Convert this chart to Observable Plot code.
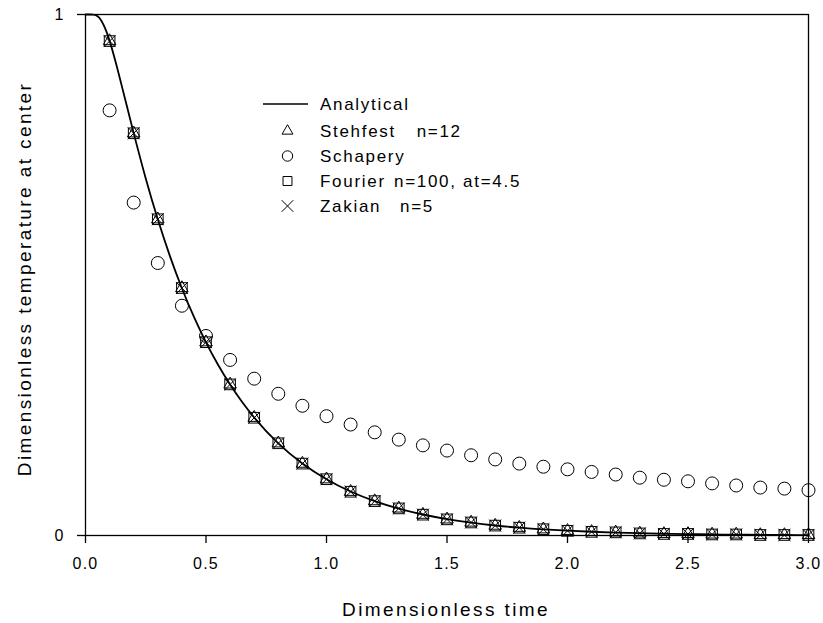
<!DOCTYPE html>
<html>
<head>
<meta charset="utf-8">
<script src="https://cdn.jsdelivr.net/npm/d3@7"></script>
<script src="https://cdn.jsdelivr.net/npm/@observablehq/plot@0.6"></script>
<style>
  html, body { margin: 0; padding: 0; background: #fff; }
  #chart { position: relative; width: 823px; height: 623px; font-family: "Liberation Sans", Arial, sans-serif; }
  #chart svg text { letter-spacing: 1.2px; }
  #overlay { position: absolute; left: 0; top: 0; pointer-events: none; }
  #overlay text.title { letter-spacing: 2.4px; }
  #overlay text.leg { letter-spacing: 1.7px; }
</style>
</head>
<body>
<div id="chart"></div>
<script>
// ---- data ----
const xTicks = [0, 0.5, 1.0, 1.5, 2.0, 2.5, 3.0];
const yTicks = [0, 1];
const xTitle = "Dimensionless time";
const yTitle = "Dimensionless temperature at center";

// analytical curve (finer near t=0)
const analyticalT = [0, 0.01, 0.02, 0.03, 0.04, 0.05, 0.0625, 0.075, 0.09, 0.1, 0.125, 0.15, 0.175, 0.2, 0.25, 0.3, 0.35, 0.4, 0.45, 0.5, 0.55, 0.6, 0.65, 0.7, 0.8, 0.9, 1.0, 1.1, 1.2, 1.3, 1.4, 1.5, 1.6, 1.7, 1.8, 1.9, 2.0, 2.1, 2.2, 2.3, 2.4, 2.5, 2.6, 2.7, 2.8, 2.9, 3.0];
const analyticalV = [1, 1, 1, 0.9999, 0.9992, 0.9967, 0.9906, 0.980, 0.9632, 0.9494, 0.909, 0.864, 0.818, 0.7723, 0.6854, 0.6068, 0.5367, 0.4745, 0.4195, 0.3708, 0.3278, 0.2897, 0.2561, 0.2264, 0.1769, 0.1382, 0.1080, 0.0844, 0.0659, 0.0515, 0.0403, 0.0315, 0.0246, 0.0192, 0.0150, 0.0117, 0.0092, 0.0072, 0.0056, 0.0044, 0.0034, 0.0027, 0.0021, 0.0016, 0.0013, 0.0010, 0.0008];

// sample times for the numerical inversions
const sampleT = [0.1, 0.2, 0.3, 0.4, 0.5, 0.6, 0.7, 0.8, 0.9, 1.0, 1.1, 1.2, 1.3, 1.4, 1.5, 1.6, 1.7, 1.8, 1.9, 2.0, 2.1, 2.2, 2.3, 2.4, 2.5, 2.6, 2.7, 2.8, 2.9, 3.0];
const stehfestV = [0.949, 0.772, 0.607, 0.475, 0.371, 0.290, 0.226, 0.177, 0.138, 0.108, 0.084, 0.066, 0.052, 0.040, 0.031, 0.025, 0.019, 0.015, 0.012, 0.009, 0.007, 0.006, 0.004, 0.003, 0.003, 0.002, 0.002, 0.001, 0.001, 0.001];
const fourierV  = [0.949, 0.772, 0.607, 0.475, 0.371, 0.290, 0.226, 0.177, 0.138, 0.108, 0.084, 0.066, 0.052, 0.040, 0.031, 0.025, 0.019, 0.015, 0.012, 0.009, 0.007, 0.006, 0.004, 0.003, 0.003, 0.002, 0.002, 0.001, 0.001, 0.001];
const zakianV   = [0.949, 0.772, 0.607, 0.475, 0.371, 0.290, 0.226, 0.177, 0.138, 0.108, 0.084, 0.066, 0.052, 0.040, 0.031, 0.025, 0.019, 0.015, 0.012, 0.009, 0.007, 0.006, 0.004, 0.003, 0.003, 0.002, 0.002, 0.001, 0.001, 0.001];
const schaperyV = [0.816, 0.639, 0.523, 0.441, 0.383, 0.337, 0.301, 0.272, 0.249, 0.229, 0.213, 0.198, 0.184, 0.173, 0.163, 0.154, 0.146, 0.138, 0.132, 0.127, 0.122, 0.117, 0.111, 0.107, 0.104, 0.100, 0.096, 0.092, 0.090, 0.087];

const legendLabels = [
  ["Analytical", ""],
  ["Stehfest", "n=12"],
  ["Schapery", ""],
  ["Fourier", "n=100, at=4.5"],
  ["Zakian", "n=5"]
];

// ---- tables ----
const analytical = analyticalT.map((t, i) => ({t, v: analyticalV[i]}));
const pts = (vals) => sampleT.map((t, i) => ({t, v: vals[i]}));

const W = 823, H = 623;
const chart = Plot.plot({
  width: W, height: H,
  marginLeft: 85, marginRight: 15, marginTop: 14, marginBottom: 88,
  style: {fontFamily: "Liberation Sans, Arial, sans-serif", fontSize: "16px", color: "black", background: "white"},
  x: {domain: [0, 3]},
  y: {domain: [0, 1]},
  marks: [
    Plot.frame({stroke: "black", strokeWidth: 1.3}),
    Plot.axisX({ticks: xTicks, tickSize: 8, tickPadding: 14, tickFormat: d => d.toFixed(1), label: null, strokeWidth: 1.3, fontSize: 16}),
    Plot.axisY({ticks: yTicks, tickSize: 8, tickPadding: 13, tickFormat: d => String(d), label: null, strokeWidth: 1.3, fontSize: 16}),
    Plot.line(analytical, {x: "t", y: "v", curve: "monotone-x", stroke: "black", strokeWidth: 1.8}),
    Plot.dot(pts(schaperyV), {x: "t", y: "v", symbol: "circle", r: 6.5, stroke: "black", fill: "none", strokeWidth: 1}),
    Plot.dot(pts(fourierV), {x: "t", y: "v", symbol: "square", r: 6, stroke: "black", fill: "none", strokeWidth: 1}),
    Plot.dot(pts(stehfestV), {x: "t", y: "v", symbol: "triangle2", r: 6, stroke: "black", fill: "none", strokeWidth: 1}),
    Plot.dot(pts(zakianV), {x: "t", y: "v", symbol: "times", r: 5.5, stroke: "black", fill: "none", strokeWidth: 1})
  ]
});
const root = document.getElementById("chart");
root.appendChild(chart);

// ---- overlay: axis titles and legend ----
const ov = d3.select(root).append("svg").attr("id", "overlay").attr("width", W).attr("height", H)
  .attr("font-family", "Liberation Sans, Arial, sans-serif");
ov.append("text").attr("class", "title").attr("x", 446).attr("y", 616).attr("text-anchor", "middle")
  .attr("font-size", 19).text(xTitle);
ov.append("text").attr("class", "title").attr("transform", "translate(31,279) rotate(-90)").attr("text-anchor", "middle")
  .attr("font-size", 19).text(yTitle);

const leg = ov.append("g");
const rowY = [104, 131, 156, 181, 206];
const symX = 287.5;
leg.append("line").attr("x1", 263).attr("x2", 308).attr("y1", rowY[0]).attr("y2", rowY[0]).attr("stroke", "black").attr("stroke-width", 1.5);
const symbols = [null, d3.symbolTriangle2, d3.symbolCircle, d3.symbolSquare, d3.symbolTimes];
const sizes = [0, 85, 85, 80, 90];
symbols.forEach((s, i) => {
  if (!s) return;
  leg.append("path").attr("d", d3.symbol(s, sizes[i])()).attr("transform", `translate(${symX},${rowY[i]})`)
    .attr("fill", "none").attr("stroke", "black").attr("stroke-width", 1);
});
const secondX = [0, 416.7, 0, 394, 400];
legendLabels.forEach(([a, b], i) => {
  const t = leg.append("text").attr("class", "leg").attr("x", 320).attr("y", rowY[i] + 6).attr("font-size", 17);
  t.append("tspan").text(a);
  if (b) t.append("tspan").attr("x", secondX[i]).text(b);
});
</script>
</body>
</html>
